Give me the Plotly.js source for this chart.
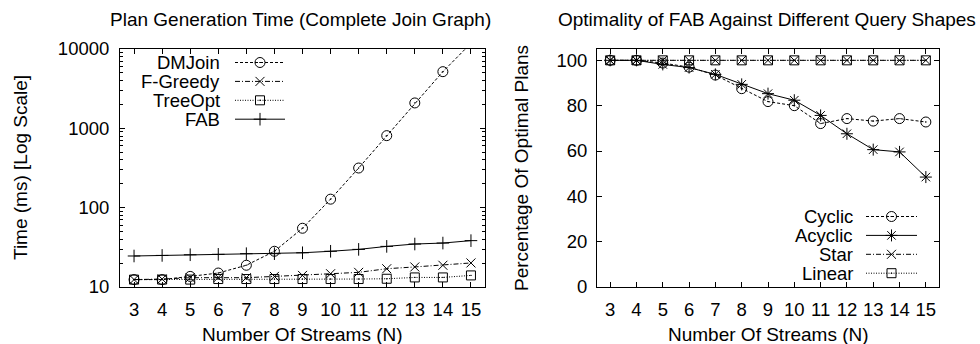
<!DOCTYPE html>
<html><head><meta charset="utf-8">
<script src="https://cdn.plot.ly/plotly-3.0.1.min.js"></script>
<style>html,body{margin:0;padding:0;background:#fff}</style>
</head><body>
<div id="chart" style="width:980px;height:344px"></div>
<script>
// ---- data ----
const streams = [3,4,5,6,7,8,9,10,11,12,13,14,15];
const dmjoin  = [12.4,12.4,13.6,15.0,18.8,28.2,55,128,316,809,2090,5180,11800];
const fgreedy = [12.4,12.6,13.1,13.2,13.1,13.6,14.0,14.7,15.3,17.0,17.9,18.8,20.1];
const treeopt = [12.4,12.4,12.4,12.6,12.6,12.6,12.6,12.6,12.6,12.7,13.2,13.2,14.0];
const fab     = [24.6,25.0,25.5,25.8,26.3,26.3,27.0,28.2,29.8,32.5,34.8,35.8,38.4];

const cyclic  = [100,100,98.8,97.0,93.5,87.5,81.8,80.0,72.1,74.3,73.2,74.3,72.8];
const acyclic = [100,100,98.2,96.8,93.8,89.4,85.3,82.4,75.7,67.6,60.6,59.6,48.5];
const star    = [100,100,100,100,100,100,100,100,100,100,100,100,100];
const linear  = [100,100,100,100,100,100,100,100,100,100,100,100,100];

const leftNames  = ['DMJoin','F-Greedy','TreeOpt','FAB'];
const rightNames = ['Cyclic','Acyclic','Star','Linear'];
const leftTitle  = 'Plan Generation Time (Complete Join Graph)';
const rightTitle = 'Optimality of FAB Against Different Query Shapes';
const xTitle = 'Number Of Streams (N)';
const leftYTitle = 'Time (ms) [Log Scale]';
const rightYTitle = 'Percentage Of Optimal Plans';

// ---- styles ----
const W = 980, H = 344;
const FONT = 'Liberation Sans, Arial, Helvetica, sans-serif';
const FS = 18.5;   // ticks, legend
const FT = 19;     // titles
const px = x => x / W;
const py = y => 1 - y / H;

const styles = {
  DMJoin:   {dash:'3px,2px', symbol:'circle-open-dot', size:10},
  'F-Greedy':{dash:'5px,2px,1px,2px', symbol:'x-thin-open', size:9},
  TreeOpt:  {dash:'1px,1.5px', symbol:'square-open-dot', size:9},
  FAB:      {dash:'solid', symbol:'cross-thin-open', size:9},
  Cyclic:   {dash:'3px,2px', symbol:'circle-open-dot', size:10},
  Acyclic:  {dash:'solid', symbol:'asterisk-open', size:10},
  Star:     {dash:'5px,2px,1px,2px', symbol:'x-thin-open', size:9},
  Linear:   {dash:'1px,1.5px', symbol:'square-open-dot', size:9}
};

function series(name, y, xa, ya) {
  const s = styles[name];
  return {x: streams, y: y, name: name, xaxis: xa, yaxis: ya, type:'scatter',
    mode:'lines+markers', showlegend:false, hoverinfo:'skip',
    line:{color:'#000', width:1, dash:s.dash},
    marker:{symbol:s.symbol, size:s.size, color:'#000', line:{color:'#000', width:1}}};
}

const traces = [
  series('DMJoin', dmjoin, 'x', 'y'),
  series('F-Greedy', fgreedy, 'x', 'y'),
  series('TreeOpt', treeopt, 'x', 'y'),
  series('FAB', fab, 'x', 'y'),
  series('Cyclic', cyclic, 'x2', 'y2'),
  series('Acyclic', acyclic, 'x2', 'y2'),
  series('Star', star, 'x2', 'y2'),
  series('Linear', linear, 'x2', 'y2')
];

// ---- custom legends (text left, sample right, as in the reference) ----
const annotations = [];
function addLegend(names, textRight, x0, x1, yTop, step) {
  names.forEach((n, i) => {
    const y = yTop + i * step;
    const s = styles[n];
    annotations.push({xref:'paper', yref:'paper', x:px(textRight), y:py(y),
      xanchor:'right', yanchor:'middle', showarrow:false, text:n,
      font:{family:FONT, size:FS, color:'#000'}});
    traces.push({x:[x0, x1], y:[y, y], xaxis:'x3', yaxis:'y3', mode:'lines',
      showlegend:false, hoverinfo:'skip', line:{color:'#000', width:1, dash:s.dash}});
    traces.push({x:[(x0 + x1) / 2], y:[y], xaxis:'x3', yaxis:'y3', mode:'markers',
      showlegend:false, hoverinfo:'skip',
      marker:{symbol:s.symbol, size:s.size, color:'#000', line:{color:'#000', width:1}}});
  });
}
addLegend(leftNames, 222, 235, 285, 62.5, 18.9);
addLegend(rightNames, 855, 866, 917, 216.5, 18.9);

function txt(text, x, y, angle) {
  annotations.push({xref:'paper', yref:'paper', x:px(x), y:py(y), xanchor:'center',
    yanchor:'middle', showarrow:false, text:text, textangle:angle || 0,
    font:{family:FONT, size:FT, color:'#000'}});
}
txt(leftTitle, 300, 20);
txt(rightTitle, 767, 20);
txt(xTitle, 302, 334);
txt(xTitle, 768, 334);
txt(leftYTitle, 20, 168, -90);
txt(rightYTitle, 521, 168, -90);

const axBase = {showline:true, linecolor:'#000', linewidth:1, mirror:'allticks',
  ticks:'inside', ticklen:5, tickcolor:'#000', tickwidth:1, showgrid:false,
  zeroline:false, automargin:false, fixedrange:true,
  tickfont:{family:FONT, size:FS, color:'#000'}};

const plotTop = 49, plotBot = 287;
const layout = {
  width:W, height:H, margin:{l:0, r:0, t:0, b:0, pad:0},
  paper_bgcolor:'#fff', plot_bgcolor:'rgba(0,0,0,0)',
  showlegend:false,
  xaxis: Object.assign({}, axBase, {domain:[px(120), px(485)], range:[2.5,15.5],
    tickmode:'array', tickvals:streams, anchor:'y', ticklabelstandoff:6}),
  yaxis: Object.assign({}, axBase, {domain:[py(plotBot), py(plotTop)], type:'log',
    range:[1,4], dtick:1, tick0:0, tickformat:'d', anchor:'x', ticklabelstandoff:6,
    minor:{ticks:'inside', ticklen:3, tickcolor:'#000', tickwidth:1, dtick:'D1', showgrid:false}}),
  xaxis2: Object.assign({}, axBase, {domain:[px(597), px(939)], range:[2.5,15.5],
    tickmode:'array', tickvals:streams, anchor:'y2', ticklabelstandoff:6}),
  yaxis2: Object.assign({}, axBase, {domain:[py(plotBot), py(plotTop)], range:[0,105],
    tickmode:'array', tickvals:[0,20,40,60,80,100], anchor:'x2', ticklabelstandoff:5}),
  xaxis3: {domain:[0,1], range:[0,W], visible:false, fixedrange:true, anchor:'y3'},
  yaxis3: {domain:[0,1], range:[H,0], visible:false, fixedrange:true, anchor:'x3'},
  annotations: annotations
};

Plotly.newPlot('chart', traces, layout, {staticPlot:true, displayModeBar:false});
</script>
</body></html>
